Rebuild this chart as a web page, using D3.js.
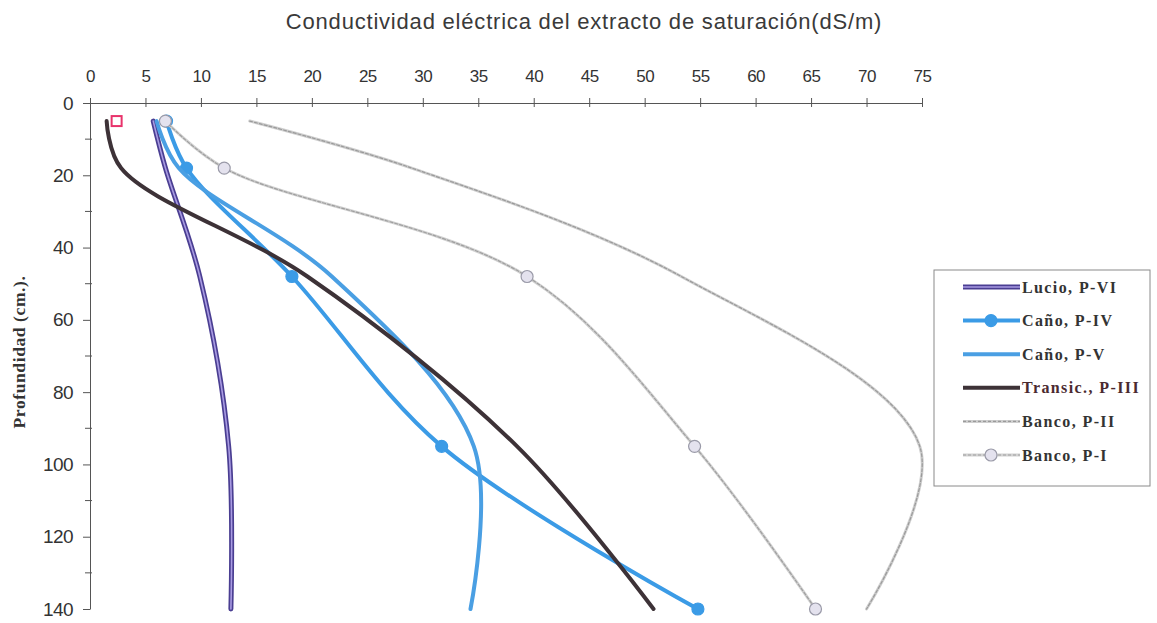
<!DOCTYPE html>
<html>
<head>
<meta charset="utf-8">
<script src="https://cdn.jsdelivr.net/npm/d3@7"></script>
<style>
  body { margin: 0; background: #fff; }
</style>
</head>
<body>
<svg width="1157" height="623"></svg>
<script>
// profundidades de muestreo (cm)
var profundidad = [5, 18, 48, 95, 140];

// conductividad (dS/m) por perfil
var lucioPVI    = [5.7, 6.8, 9.9, 12.5, 12.7];
var canoPIV     = [6.9, 8.7, 18.2, 31.7, 54.8];
var canoPV      = [6.0, 8.0, 21.8, 34.6, 34.3];
var transicPIII = [1.5, 2.8, 19.6, 38.5, 50.8];
var bancoPII    = [14.4, 29.0, 53.3, 74.8, 70.0];
var bancoPI     = [6.8, 12.1, 39.4, 54.5, 65.4];

// punto suelto (cuadrado rosa)
var puntoSuelto = [[2.4, 5]];

var nombres = ["Lucio, P-VI", "Caño, P-IV", "Caño, P-V", "Transic., P-III", "Banco, P-II", "Banco, P-I"];
var xTicks = d3.range(0, 80, 5);
var yTicks = d3.range(0, 160, 20);
var yMinor = d3.range(10, 150, 20);

var svg = d3.select("svg"),
    width = +svg.attr("width"),
    height = +svg.attr("height");

var x = d3.scaleLinear([0, 75], [90, 922]);
var y = d3.scaleLinear([0, 140], [103, 609]);

var axisColor = "#555";

// titulo
svg.append("text")
    .attr("x", 584).attr("y", 29)
    .attr("text-anchor", "middle")
    .attr("font-family", "Liberation Sans, Arial, sans-serif")
    .attr("font-size", "22px")
    .attr("letter-spacing", "0.8px")
    .attr("fill", "#3a3a3a")
    .text("Conductividad eléctrica del extracto de saturación(dS/m)");

// eje superior
var gx = svg.append("g")
    .attr("transform", "translate(0,103)")
    .call(d3.axisTop(x).tickValues(xTicks).tickSize(5).tickSizeOuter(0).tickPadding(16))
    .attr("font-family", "Liberation Sans, Arial, sans-serif")
    .attr("font-size", "17px");
gx.select(".domain").attr("stroke", axisColor);
gx.selectAll(".tick line").attr("stroke", axisColor).attr("y2", -5).clone().attr("y2", 4);
gx.selectAll(".tick text").attr("fill", "#333").attr("letter-spacing", "-0.5px");

// eje izquierdo
var gy = svg.append("g")
    .attr("transform", "translate(90,0)")
    .call(d3.axisLeft(y).tickValues(yTicks).tickSize(7).tickSizeOuter(0).tickPadding(10))
    .attr("font-family", "Liberation Sans, Arial, sans-serif")
    .attr("font-size", "19px");
gy.select(".domain").attr("stroke", axisColor);
gy.selectAll(".tick line").attr("stroke", axisColor);
gy.selectAll(".tick text").attr("fill", "#333").attr("letter-spacing", "-0.6px");
gy.selectAll(".minor")
    .data(yMinor)
    .enter().append("line")
    .attr("x1", -5).attr("x2", 2)
    .attr("y1", d => y(d)).attr("y2", d => y(d))
    .attr("stroke", axisColor);

svg.append("text")
    .attr("transform", "translate(25,352) rotate(-90)")
    .attr("text-anchor", "middle")
    .attr("font-family", "Liberation Serif, Times New Roman, serif")
    .attr("font-weight", "bold")
    .attr("font-size", "17.5px")
    .attr("letter-spacing", "0.6px")
    .attr("fill", "#333")
    .text("Profundidad (cm.).");

// series
function pts(vals) { return vals.map((v, i) => [v, profundidad[i]]); }

var line = d3.line()
    .x(d => x(d[0]))
    .y(d => y(d[1]))
    .curve(d3.curveCatmullRom.alpha(0.5));

var series = [
    {name: nombres[0], data: pts(lucioPVI),    strokes: [["#4a3e92", 5], ["#a99be2", 1.6]], dash: null, marker: null},
    {name: nombres[1], data: pts(canoPIV),     strokes: [["#3b9be6", 4]], dash: null, marker: {fill: "#3b9be6", stroke: "#3b9be6"}},
    {name: nombres[2], data: pts(canoPV),      strokes: [["#4a9fe3", 4]], dash: null, marker: null},
    {name: nombres[3], data: pts(transicPIII), strokes: [["#3d3237", 4]], dash: null, marker: null},
    {name: nombres[4], data: pts(bancoPII),    strokes: [["#cfcfcf", 3], ["#9a9a9a", 1.2]], dash: "3,2", marker: null},
    {name: nombres[5], data: pts(bancoPI),     strokes: [["#d2d2d2", 3], ["#9f9f9f", 1.2]], dash: "3,2", marker: {fill: "#e4e2ee", stroke: "#9a9aa8"}}
];

var plot = svg.append("g");

series.forEach(function(s) {
    s.strokes.forEach(function(st, j) {
        plot.append("path")
            .datum(s.data)
            .attr("d", line)
            .attr("fill", "none")
            .attr("stroke", st[0])
            .attr("stroke-width", st[1])
            .attr("stroke-linecap", "round")
            .attr("stroke-dasharray", j > 0 ? s.dash : null);
    });
    if (s.marker) {
        plot.selectAll(null)
            .data(s.data)
            .enter().append("circle")
            .attr("cx", d => x(d[0]))
            .attr("cy", d => y(d[1]))
            .attr("r", 6)
            .attr("fill", s.marker.fill)
            .attr("stroke", s.marker.stroke)
            .attr("stroke-width", 1.2);
    }
});

plot.selectAll(".sq")
    .data(puntoSuelto)
    .enter().append("rect")
    .attr("x", d => x(d[0]) - 5)
    .attr("y", d => y(d[1]) - 5)
    .attr("width", 10).attr("height", 10)
    .attr("fill", "none")
    .attr("stroke", "#e8336b")
    .attr("stroke-width", 2);

// leyenda
var lg = svg.append("g");
lg.append("rect")
    .attr("x", 934).attr("y", 270)
    .attr("width", 216).attr("height", 216)
    .attr("fill", "white")
    .attr("stroke", "#8a8a8a");

var ly = d3.scalePoint(nombres, [287, 455]);

series.forEach(function(s) {
    var yy = ly(s.name);
    s.strokes.forEach(function(st, j) {
        lg.append("line")
            .attr("x1", 963).attr("x2", 1020)
            .attr("y1", yy).attr("y2", yy)
            .attr("stroke", st[0])
            .attr("stroke-width", st[1])
            .attr("stroke-dasharray", j > 0 ? s.dash : null);
    });
    if (s.marker) {
        lg.append("circle")
            .attr("cx", 991).attr("cy", yy).attr("r", 6)
            .attr("fill", s.marker.fill)
            .attr("stroke", s.marker.stroke)
            .attr("stroke-width", 1.2);
    }
    lg.append("text")
        .attr("x", 1022).attr("y", yy)
        .attr("dy", "0.35em")
        .attr("font-family", "Liberation Serif, Times New Roman, serif")
        .attr("font-weight", "bold")
        .attr("font-size", "16px")
        .attr("letter-spacing", "1.4px")
        .attr("fill", s.name.startsWith("Transic") ? "#4a2a30" : "#333")
        .text(s.name);
});
</script>
</body>
</html>
